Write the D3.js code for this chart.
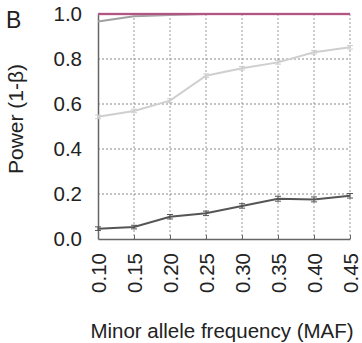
<!DOCTYPE html>
<html>
<head>
<meta charset="utf-8">
<script src="https://cdn.jsdelivr.net/npm/d3@7"></script>
<style>
  html, body { margin: 0; padding: 0; background: #fff; }
  svg { display: block; font-family: "Liberation Sans", Arial, sans-serif; }
</style>
</head>
<body>
<svg id="chart" width="362" height="343"></svg>
<script>
// Power by minor allele frequency, one line per scenario
const maf = [0.10, 0.15, 0.20, 0.25, 0.30, 0.35, 0.40, 0.45];
const mafLabels = ["0.10", "0.15", "0.20", "0.25", "0.30", "0.35", "0.40", "0.45"];
const yTicks = [0.0, 0.2, 0.4, 0.6, 0.8, 1.0];

const powerTop   = [1.0, 1.0, 1.0, 1.0, 1.0, 1.0, 1.0, 1.0];
const powerHigh  = [0.967, 0.990, 0.995, 1.0, 1.0, 1.0, 1.0, 1.0];
const powerMid   = [0.543, 0.569, 0.615, 0.726, 0.759, 0.785, 0.830, 0.852];
const powerLow   = [0.046, 0.053, 0.099, 0.114, 0.147, 0.179, 0.176, 0.192];
const errMid     = [0.008, 0.008, 0.008, 0.008, 0.008, 0.008, 0.008, 0.008];
const errLow     = [0.008, 0.008, 0.010, 0.010, 0.010, 0.011, 0.011, 0.010];

const svg = d3.select("#chart");
const m = { left: 98, right: 12, top: 14, bottom: 104 };
const W = 362, H = 343;

const x = d3.scalePoint().domain(maf).range([m.left, W - m.right]);
const y = d3.scaleLinear().domain([0, 1]).range([H - m.bottom, m.top]);

// dotted grid
const grid = svg.append("g");
grid.selectAll("line.h").data(yTicks.filter(v => v > 0)).join("line")
  .attr("x1", m.left).attr("x2", W - m.right)
  .attr("y1", d => y(d)).attr("y2", d => y(d))
  .attr("stroke", "#888").attr("stroke-width", 1).attr("stroke-dasharray", "2,2");
grid.selectAll("line.v").data(maf.slice(1)).join("line")
  .attr("x1", d => x(d)).attr("x2", d => x(d))
  .attr("y1", m.top).attr("y2", H - m.bottom)
  .attr("stroke", "#999").attr("stroke-width", 1).attr("stroke-dasharray", "2,2");

// axes
const yAxis = svg.append("g").attr("transform", `translate(${m.left},0)`)
  .call(d3.axisLeft(y).tickValues(yTicks).tickFormat(d3.format(".1f")).tickSize(0).tickPadding(16));
yAxis.select(".domain").attr("stroke", "#666").attr("stroke-width", 1.5);
yAxis.selectAll("text").attr("font-size", 20.5).attr("fill", "#222");

const xAxis = svg.append("g").attr("transform", `translate(0,${H - m.bottom})`)
  .call(d3.axisBottom(x).tickFormat((d, i) => mafLabels[i]).tickSize(-4).tickSizeOuter(0));
xAxis.select(".domain").attr("stroke", "#666").attr("stroke-width", 1.5);
xAxis.selectAll(".tick line").attr("stroke", "#666");
xAxis.selectAll("text")
  .attr("font-size", 20.5).attr("fill", "#222")
  .attr("transform", "rotate(-90)")
  .attr("text-anchor", "end")
  .attr("x", -14).attr("y", 0).attr("dy", "0.35em");

// series
const line = d3.line().x((d, i) => x(maf[i])).y(d => y(d));

function drawSeries(vals, errs, color, width) {
  const g = svg.append("g");
  g.append("path").datum(vals).attr("d", line)
    .attr("fill", "none").attr("stroke", color).attr("stroke-width", width);
  if (errs) {
    const eb = g.selectAll("g.eb").data(vals).join("g");
    eb.append("line")
      .attr("x1", (d, i) => x(maf[i])).attr("x2", (d, i) => x(maf[i]))
      .attr("y1", (d, i) => y(d - errs[i])).attr("y2", (d, i) => y(d + errs[i]))
      .attr("stroke", color).attr("stroke-width", 1);
    [-1, 1].forEach(s => {
      eb.append("line")
        .attr("x1", (d, i) => x(maf[i]) - 3).attr("x2", (d, i) => x(maf[i]) + 3)
        .attr("y1", (d, i) => y(d + s * errs[i])).attr("y2", (d, i) => y(d + s * errs[i]))
        .attr("stroke", color).attr("stroke-width", 1);
    });
  }
}

drawSeries(powerMid, errMid, "#cfcfcf", 2);
drawSeries(powerLow, errLow, "#555", 2);
drawSeries(powerHigh, null, "#a0a0a0", 2);
drawSeries(powerTop, null, "#d88fb0", 2.5);
drawSeries(powerTop, null, "#8a1d55", 1.2);

// titles
svg.append("text").attr("x", 6).attr("y", 28).attr("font-size", 23).attr("fill", "#222").text("B");
svg.append("text")
  .attr("transform", `translate(23,119) rotate(-90)`)
  .attr("text-anchor", "middle").attr("font-size", 21).attr("fill", "#222")
  .text("Power (1-β)");
svg.append("text")
  .attr("x", 222).attr("y", 338)
  .attr("text-anchor", "middle").attr("font-size", 20.5).attr("fill", "#222")
  .text("Minor allele frequency (MAF)");
</script>
</body>
</html>
